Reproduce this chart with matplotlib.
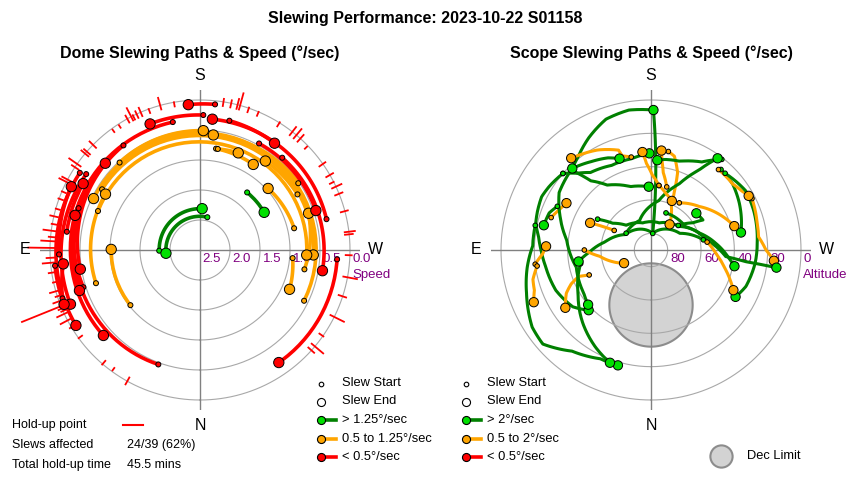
import numpy as np
import matplotlib
matplotlib.use("Agg")
import matplotlib.pyplot as plt
from matplotlib.transforms import offset_copy

plt.rcParams['font.family'] = ['Liberation Sans', 'DejaVu Sans']

LINE_COL = {'fast': '#008000', 'mid': '#ffa500', 'slow': '#ff0000'}
DOT_COL = {'fast': '#00e000', 'mid': '#ffa500', 'slow': '#ff0000'}

# ---- dome slews: azimuth (deg) and speed (deg/sec) at start and end
dome_az_start = [89, 192.6, 219.3,
                 296, 121.8, 110.9, 72.3, 51.6, 137.4, 189, 190, 235.8, 240.3, 257, 275, 280.5,
                 185.9, 256.3, 192.8, 209, 221.7, 273.9,
                 168, 20, 181.4, 122.7, 123.7, 109, 97.8, 88.2, 83.8, 72.3, 70.6, 143.8]
dome_az_end = [183, 84.5, 239.6,
               115.8, 272.5, 272.7, 120.6, 90.4, 181.6, 211.9, 201.5, 186.6, 216.3, 227.9, 293.7, 251.3,
               175.4, 185.4, 214.9, 251.2, 279.6, 325,
               48.5, 132.5, 158.4, 58.7, 67.3, 71.4, 119.6, 116.2, 68.2, 105.5, 84.2, 80.9]
dome_spd_start = [1.82, 1.94, 1.26,
                  0.57, 0.58, 0.68, 0.68, 1.02, 0.52, 0.79, 0.79, 0.52, 0.63, 0.89, 0.95, 0.73,
                  0.06, 0.33, 0.29, 0.47, 0.44, 0.21,
                  0.32, 0.47, 0.25, 0.12, 0.22, 0.36, 0.26, 0.15, 0.07, 0.46, 0.07, 0.34]
dome_spd_end = [1.81, 1.93, 1.26,
                0.53, 0.61, 0.72, 0.67, 1.02, 0.51, 0.82, 0.76, 0.57, 0.66, 0.97, 0.87, 0.59,
                0.07, 0.31, 0.33, 0.46, 0.43, 0.21,
                0.35, 0.36, 0.24, 0.08, 0.16, 0.38, 0.26, 0.11, 0.06, 0.34, 0.21, 0.48]

# ---- dome hold-up points: azimuth and size (radial, in speed units)
holdup_az = [164.6, 156.7, 155, 152.7, 151, 153.5, 147, 144, 134.5, 131, 130, 125, 123.5,
             118, 117, 103, 97.4, 93.4, 90.8,
             85.1, 81.3, 77.5, 74, 70, 68, 64.8, 62, 59, 54, 40.5, 36, 29,
             195.5, 194.5, 192, 189, 203, 212, 218, 220, 222, 226, 235, 240, 243, 245,
             248, 255, 263, 264,
             272, 280.5, 288, 296.5, 305, 310, 312,
             199, 170, 160, 87, 95, 100, 106, 110, 113, 66, 67, 72]
holdup_len = [0.20, 0.15, 0.12, 0.23, 0.13, 0.08, 0.05, 0.05, 0.15, 0.13, 0.15, 0.23, 0.13,
              0.17, 0.20, 0.13, 0.20, 0.22, 0.43,
              0.20, 0.12, 0.08, 0.17, 0.17, 0.77, 0.20, 0.20, 0.10, 0.07, 0.08, 0.05, 0.13,
              0.28, 0.17, 0.12, 0.12, 0.07, 0.08, 0.17, 0.20, 0.15, 0.05, 0.12, 0.13, 0.07, 0.17,
              0.13, 0.12, 0.17, 0.13,
              0.10, 0.23, 0.13, 0.25, 0.08, 0.25, 0.13,
              0.08, 0.07, 0.07, 0.13, 0.10, 0.08, 0.07, 0.08, 0.07, 0.10, 0.13, 0.10]
held_slews = 24
total_slews = 39
holdup_mins = 45.5

# ---- scope slews: azimuth / altitude waypoints and speed class
scope_az = [
    [186, 181],
    [181, 171, 161, 151, 142, 136],
    [131, 122, 116, 109, 103, 97, 90, 81, 67, 54, 46],
    [102, 92, 82, 71, 57, 49, 38, 25, 16],
    [136, 146, 155, 161],
    [168, 163, 162, 152, 144, 139],
    [135, 139, 146, 162, 178],
    [131, 136, 142, 155, 168, 179],
    [187, 181, 177, 175],
    [190, 194, 199, 202, 205, 216],
    [194, 189, 187, 186],
    [218, 210, 198, 189, 184],
    [124, 159, 189, 203, 211, 216],
    [221, 231, 242, 259],
    [220, 231, 237, 241],
    [224, 238, 249, 265, 277, 291, 299],
    [243, 254, 263, 270, 275],
    [120, 125, 135, 163, 197, 230, 251, 264, 276, 281],
    [259, 240, 186, 121, 100, 88, 81],
    [202, 236, 260, 275, 277, 278],
    [118, 116, 114],
    [108, 114, 119],
    [90, 83, 73, 64],
    [83, 88, 92],
    [82, 76, 71, 66],
    [68, 70, 67, 63, 56],
    [262, 273, 283, 291, 296],
    [211, 228, 240, 254],
    [187, 195, 203],
    [79, 59, 43, 30, 20],
    [136, 122, 110, 97, 77, 57, 49],
    [115, 110, 103],
    [228, 237, 240, 231],
]
scope_alt = [
    [80, 6],
    [6, 5, 7, 13, 19, 22],
    [20, 18, 17, 18, 19, 22, 24, 26, 28, 32, 38],
    [19, 19, 15, 11, 5, 4, 13, 18, 18],
    [22, 26, 29, 32],
    [33, 31, 27, 22, 19, 17],
    [22, 35, 43, 50, 52],
    [20, 26, 31, 34, 34, 32],
    [51, 45, 38, 31],
    [30, 32, 41, 53, 61, 71],
    [51, 43, 36, 30],
    [21, 29, 34, 35, 36],
    [72, 71, 60, 47, 34, 22],
    [26, 27, 30, 35],
    [27, 27, 25, 23],
    [26, 23, 24, 26, 27, 29, 32],
    [22, 24, 25, 21, 16],
    [53, 62, 69, 73, 73, 68, 59, 51, 43, 39],
    [58, 70, 80, 72, 62, 53, 46],
    [66, 65, 56, 45, 33, 14],
    [65, 58, 50],
    [27, 30, 32],
    [50, 59, 66, 72],
    [20, 25, 27],
    [21, 17, 16, 13],
    [50, 44, 38, 33, 28],
    [56, 51, 45, 39, 35],
    [57, 51, 45, 38],
    [51, 55, 58],
    [47, 39, 30, 23, 18],
    [22, 25, 32, 39, 44, 42, 40],
    [28, 25, 24],
    [68, 60, 54, 55],
]
scope_cls = ['fast', 'fast', 'fast', 'fast', 'fast', 'mid', 'fast', 'fast', 'mid', 'mid',
             'mid', 'fast', 'fast', 'fast', 'mid', 'fast', 'mid', 'fast', 'fast', 'fast',
             'mid', 'mid', 'mid', 'mid', 'mid', 'mid', 'mid', 'mid', 'mid', 'fast',
             'fast', 'fast', 'fast']

# declination limit disc (centre az/alt, radius in degrees)
dec_az, dec_alt, dec_radius = 0, 57, 25

dome_rings = [2.0, 1.5, 1.0, 0.5, 0.0]
dome_tick_speeds = [2.5, 2.0, 1.5, 1.0, 0.5, 0.0]
alt_rings = [80, 60, 40, 20, 0]


def speed_class(v, fast):
    if v > fast:
        return 'fast'
    if v >= 0.5:
        return 'mid'
    return 'slow'


def spiral(ax, az, r, **kw):
    # let the polar transform draw each segment as an arc / spiral
    line, = ax.plot(np.radians(az), r, **kw)
    line.get_path()._interpolation_steps = 40
    return line


fig = plt.figure(figsize=(8.5, 4.8), dpi=100)
ax1 = fig.add_axes([40 / 850, 70 / 480, 320 / 850, 320 / 480], projection='polar')
ax2 = fig.add_axes([491 / 850, 70 / 480, 320 / 850, 320 / 480], projection='polar')

ring = np.linspace(0, 2 * np.pi, 361)
for ax, rmax, rings in ((ax1, 2.5, [2.5 - s for s in dome_rings]),
                        (ax2, 90, [90 - a for a in alt_rings])):
    ax.set_theta_zero_location('S')
    ax.set_theta_direction(-1)
    lim = rmax * 160 / 150
    ax.set_ylim(0, lim)
    ax.set_xticks([])
    ax.set_yticks([])
    ax.grid(False)
    ax.spines['polar'].set_visible(False)
    for r in rings:
        ax.plot(ring, np.full_like(ring, r), color='#a8a8a8', lw=0.8, zorder=1)
    for t in (0, 90, 180, 270):
        ax.plot([np.radians(t)] * 2, [0, lim], color='#808080', lw=1, zorder=1)
    rlab = rmax * 175 / 150
    for t, lab in ((180, 'S'), (0, 'N'), (90, 'E'), (270, 'W')):
        ax.text(np.radians(t), rlab, lab, ha='center', va='center', fontsize=11.5)

# ---------------- dome ----------------
lab_tr = offset_copy(ax1.transData, fig=fig, x=2.5, y=-8.5, units='dots')
for s in dome_tick_speeds:
    ax1.text(np.radians(270), 2.5 - s, f'{s:.1f}', transform=lab_tr, ha='left',
             va='center', color='#800080', fontsize=9.5)
ax1.text(np.radians(270), 2.5, 'Speed', color='#800080', fontsize=9.5, ha='left', va='center',
         transform=offset_copy(ax1.transData, fig=fig, x=2, y=-25, units='dots'))

for az, ln in zip(holdup_az, holdup_len):
    ax1.plot([np.radians(az)] * 2, [2.43, 2.43 + ln], color='#ff0000', lw=1.3,
             clip_on=False, zorder=2)

dome_cls = [speed_class((a + b) / 2, 1.25) for a, b in zip(dome_spd_start, dome_spd_end)]
for a0, a1, s0, s1, c in zip(dome_az_start, dome_az_end, dome_spd_start, dome_spd_end, dome_cls):
    spiral(ax1, [a0, a1], [2.5 - s0, 2.5 - s1], color=LINE_COL[c], lw=2.6,
           solid_capstyle='butt', zorder=3)
ax1.scatter(np.radians(dome_az_start), 2.5 - np.array(dome_spd_start), s=13,
            c=[DOT_COL[c] for c in dome_cls], edgecolors='black', linewidths=0.7, zorder=5)
ax1.scatter(np.radians(dome_az_end), 2.5 - np.array(dome_spd_end), s=55,
            c=[DOT_COL[c] for c in dome_cls], edgecolors='black', linewidths=0.7, zorder=5)

# ---------------- scope ----------------
lab_tr = offset_copy(ax2.transData, fig=fig, x=3, y=-8.5, units='dots')
for a in alt_rings:
    ax2.text(np.radians(270), 90 - a, str(a), transform=lab_tr, ha='left',
             va='center', color='#800080', fontsize=9.5)
ax2.text(np.radians(270), 90, 'Altitude', color='#800080', fontsize=9.5, ha='left', va='center',
         transform=offset_copy(ax2.transData, fig=fig, x=2, y=-25, units='dots'))

zd = 90 - dec_alt
cx, cy = zd * np.sin(np.radians(dec_az)), zd * np.cos(np.radians(dec_az))
t = np.linspace(0, 2 * np.pi, 200)
px, py = cx + dec_radius * np.cos(t), cy + dec_radius * np.sin(t)
ax2.fill(np.arctan2(px, py), np.hypot(px, py), facecolor='#d3d3d3', edgecolor='#8c8c8c',
         lw=1.5, zorder=0.5)

for az, alt, c in zip(scope_az, scope_alt, scope_cls):
    spiral(ax2, az, 90 - np.array(alt), color=LINE_COL[c], lw=2.2, zorder=3)
start_az = [p[0] for p in scope_az]
start_alt = [p[0] for p in scope_alt]
end_az = [p[-1] for p in scope_az]
end_alt = [p[-1] for p in scope_alt]
cols = [DOT_COL[c] for c in scope_cls]
ax2.scatter(np.radians(start_az), 90 - np.array(start_alt), s=11, c=cols,
            edgecolors='black', linewidths=0.7, zorder=5)
ax2.scatter(np.radians(end_az), 90 - np.array(end_alt), s=45, c=cols,
            edgecolors='black', linewidths=0.7, zorder=5)

# ---------------- titles, legends, notes ----------------
ov = fig.add_axes([0, 0, 1, 1])
ov.set_xlim(0, 850)
ov.set_ylim(480, 0)
ov.axis('off')

ov.text(425, 18, 'Slewing Performance: 2023-10-22 S01158', ha='center', va='center',
        fontsize=11.5, fontweight='bold')
ov.text(200, 53, 'Dome Slewing Paths & Speed (°/sec)', ha='center', va='center',
        fontsize=11.5, fontweight='bold')
ov.text(651, 53, 'Scope Slewing Paths & Speed (°/sec)', ha='center', va='center',
        fontsize=11.5, fontweight='bold')

rows = [383.5, 401.5, 420, 438.5, 456.5]


def draw_legend(x0, labels):
    ov.plot(x0, rows[0], 'o', ms=3.3, mfc='white', mec='black', mew=0.8)
    ov.plot(x0, rows[1], 'o', ms=5.8, mfc='white', mec='black', mew=0.8)
    for y, c in zip(rows[2:], ['fast', 'mid', 'slow']):
        ov.plot([x0, x0 + 15], [y, y], color=LINE_COL[c], lw=2.6)
        ov.plot(x0, y, 'o', ms=5.8, mfc=DOT_COL[c], mec='black', mew=0.8)
    for y, lab in zip(rows, labels):
        ov.text(x0 + 21.5, y, lab, va='center', fontsize=9.3)


draw_legend(320.7, ['Slew Start', 'Slew End', '> 1.25°/sec', '0.5 to 1.25°/sec', '< 0.5°/sec'])
draw_legend(466, ['Slew Start', 'Slew End', '> 2°/sec', '0.5 to 2°/sec', '< 0.5°/sec'])

ov.plot(721, 456, 'o', ms=16, mfc='#d3d3d3', mec='#8c8c8c', mew=1.5)
ov.text(747, 456, 'Dec Limit', va='center', fontsize=9.3)

ov.text(12, 425, 'Hold-up point', va='center', fontsize=9)
ov.plot([123, 143], [425, 425], color='#ff0000', lw=1.5)
ov.text(12, 445, 'Slews affected', va='center', fontsize=9)
ov.text(127, 445, f'{held_slews}/{total_slews} ({held_slews / total_slews:.0%})',
        va='center', fontsize=9)
ov.text(12, 465, 'Total hold-up time', va='center', fontsize=9)
ov.text(127, 465, f'{holdup_mins} mins', va='center', fontsize=9)

fig.savefig('out.png', dpi=100)
